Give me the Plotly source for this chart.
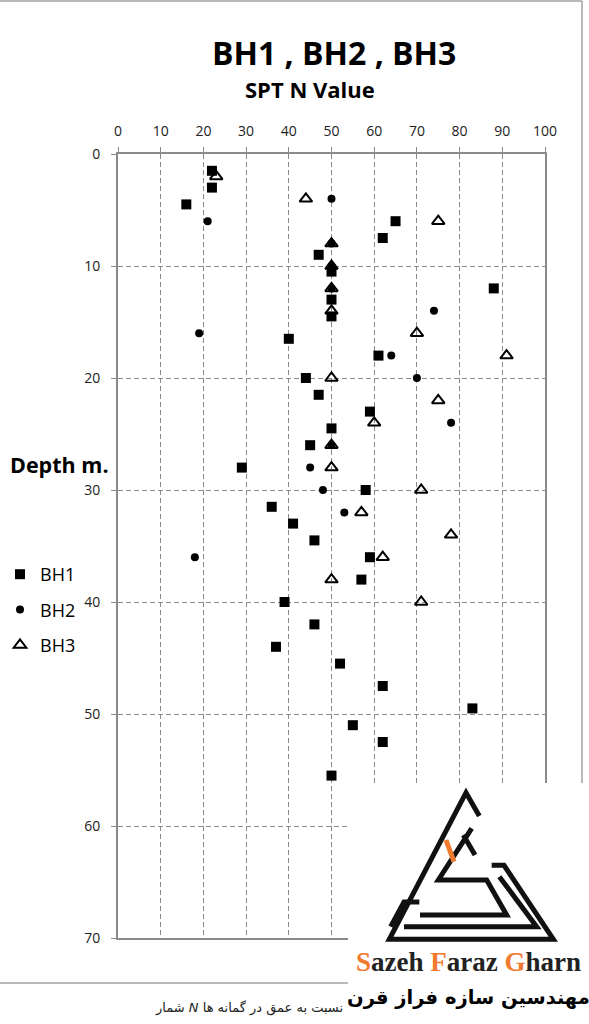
import plotly.graph_objects as go

# ---------------- data ----------------
bh1_n = [22, 22, 16, 65, 62, 47, 50, 88, 50, 50, 40, 61, 44, 47, 59, 50, 45, 29, 58, 36,
         41, 46, 59, 57, 39, 46, 37, 52, 62, 83, 55, 62, 50]
bh1_depth = [1.5, 3, 4.5, 6, 7.5, 9, 10.5, 12, 13, 14.5, 16.5, 18, 20, 21.5, 23, 24.5, 26, 28, 30, 31.5,
             33, 34.5, 36, 38, 40, 42, 44, 45.5, 47.5, 49.5, 51, 52.5, 55.5]

bh2_n = [50, 21, 50, 50, 50, 74, 19, 64, 70, 78, 50, 45, 48, 53, 18]
bh2_depth = [4, 6, 8, 10, 12, 14, 16, 18, 20, 24, 26, 28, 30, 32, 36]

bh3_n = [23, 44, 75, 50, 50, 50, 50, 70, 91, 50, 75, 60, 50, 50, 71, 57, 78, 62, 50, 71]
bh3_depth = [2, 4, 6, 8, 10, 12, 14, 16, 18, 20, 22, 24, 26, 28, 30, 32, 34, 36, 38, 40]

x_ticks = list(range(0, 101, 10))
y_ticks = list(range(0, 71, 10))

# ---------------- geometry helpers (pixel -> paper) ----------------
W, H = 589, 1024
L, R, T, B = 118, 545, 154, 938


def px(x):
    return (x - L) / (R - L)


def py(y):
    return (B - y) / (B - T)


FONT = "Open Sans"
GRAY = "#8a8a8a"

fig = go.Figure()
fig.add_trace(go.Scatter(x=bh1_n, y=bh1_depth, mode="markers", name="BH1", legendgroup="a",
                         marker=dict(symbol="square", size=10, color="black")))
fig.add_trace(go.Scatter(x=bh2_n, y=bh2_depth, mode="markers", name="BH2", legendgroup="b",
                         marker=dict(symbol="circle", size=8, color="black")))
fig.add_trace(go.Scatter(x=bh3_n, y=bh3_depth, mode="markers", name="BH3", legendgroup="c",
                         marker=dict(symbol="triangle-up-open", size=11, color="black",
                                     line=dict(width=2, color="black"))))

fig.update_xaxes(side="top", range=[0, 100], tickvals=x_ticks, showgrid=True,
                 gridcolor=GRAY, griddash="5px,3px", gridwidth=1,
                 showline=True, linecolor=GRAY, linewidth=2, mirror=True,
                 ticks="outside", ticklen=5, tickcolor=GRAY, zeroline=False, automargin=False,
                 tickfont=dict(family=FONT, size=14, color="#222"), ticklabelstandoff=5)
fig.update_yaxes(range=[70, 0], tickvals=y_ticks, showgrid=True,
                 gridcolor=GRAY, griddash="5px,3px", gridwidth=1,
                 showline=True, linecolor=GRAY, linewidth=2, mirror=True,
                 ticks="outside", ticklen=5, tickcolor=GRAY, zeroline=False, automargin=False,
                 tickfont=dict(family=FONT, size=14, color="#222"), ticklabelstandoff=8)

shapes = []
# outer chart border
shapes.append(dict(type="line", xref="paper", yref="paper", x0=px(0), x1=px(582), y0=py(1), y1=py(1),
                   line=dict(color="#a0a0a0", width=1.5)))
shapes.append(dict(type="line", xref="paper", yref="paper", x0=px(582), x1=px(582), y0=py(1), y1=py(783),
                   line=dict(color="#a0a0a0", width=1.5)))
shapes.append(dict(type="line", xref="paper", yref="paper", x0=px(0), x1=px(348), y0=py(983), y1=py(983),
                   line=dict(color="#a0a0a0", width=1.5)))
# white box for logo
shapes.append(dict(type="rect", xref="paper", yref="paper", layer="above",
                   x0=px(348), x1=px(W + 5), y0=py(783), y1=py(H + 5),
                   fillcolor="white", line=dict(width=0)))


# logo strokes (zoom coords /3 + offset)
def lp(points):
    s = ""
    for i, (a, b) in enumerate(points):
        X = px(340 + a / 3)
        Y = py(780 + b / 3)
        s += ("M" if i == 0 else "L") + f"{X:.4f},{Y:.4f} "
    return s


logo_paths = [
    [(418, 108), (378, 38), (148, 478), (640, 478), (492, 256), (455, 256)],
    [(238, 366), (192, 366), (152, 440)],
    [(192, 440), (590, 440), (478, 290)],
    [(395, 145), (295, 300), (440, 300), (500, 405), (240, 405)],
    [(370, 165), (405, 225)],
]
for p in logo_paths:
    shapes.append(dict(type="path", xref="paper", yref="paper", layer="above", path=lp(p),
                       line=dict(color="#111", width=5)))
shapes.append(dict(type="path", xref="paper", yref="paper", layer="above",
                   path=lp([(318, 180), (342, 245)]), line=dict(color="#f07a2e", width=5)))

OR = "#f07a2e"


def ann(text, x, y, size, family=FONT, xanchor="center", color="black"):
    return dict(text=text, x=px(x), y=py(y), xref="paper", yref="paper", xanchor=xanchor,
                yanchor="middle", showarrow=False, font=dict(family=family, size=size, color=color))


annotations = [
    ann("<b>BH1 , BH2 , BH3</b>", 334, 52, 32),
    ann("<b>SPT N Value</b>", 310, 89, 22),
    ann("<b>Depth m.</b>", 8, 465, 21.5, xanchor="left"),
    ann(f"<b><span style='color:{OR}'>S</span>azeh <span style='color:{OR}'>F</span>araz "
        f"<span style='color:{OR}'>G</span>harn</b>", 468, 962, 27, family="Liberation Serif", color="#222"),
    ann("<b>مهندسین سازه فراز قرن</b>", 468, 998, 19.5, family="DejaVu Sans"),
    ann("شمار <i>N</i> نسبت به عمق در گمانه ها", 345, 1008, 13, family="DejaVu Sans",
        xanchor="right", color="#222"),
]

fig.update_layout(
    width=W, height=H,
    margin=dict(l=L, r=W - R, t=T, b=H - B, autoexpand=False),
    paper_bgcolor="white", plot_bgcolor="white",
    showlegend=True,
    legend=dict(x=0.0, y=1 - 556 / H, xanchor="left", yanchor="top", xref="container", yref="container",
                font=dict(family=FONT, size=18, color="black"), tracegroupgap=9,
                bgcolor="rgba(0,0,0,0)"),
    shapes=shapes,
    annotations=annotations,
)

fig.write_html("out.html")
